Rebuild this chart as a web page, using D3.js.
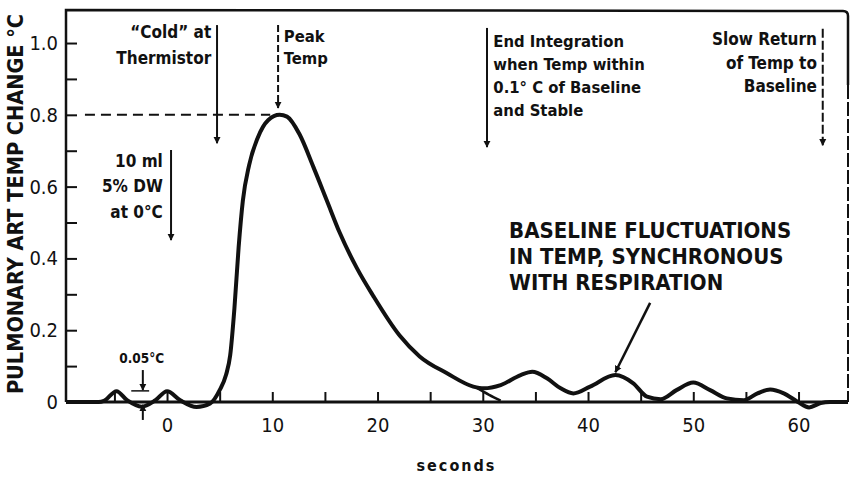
<!DOCTYPE html>
<html lang="en">
  <head>
    <meta charset="utf-8" />
    <title>Thermodilution curve</title>
    <script src="https://cdn.jsdelivr.net/npm/d3@7"></script>
    <style>
      body { margin: 0; background: #fff; }
      text { font-family: "DejaVu Sans Condensed", "DejaVu Sans", sans-serif; fill: #111; }
    </style>
  </head>
  <body>
    <script>
      // curve: seconds, temp change (°C)
      var curveT = [-9.6, -6.5, -6.0, -4.8, -3.8, -2.4, -1.1, 0, 1.25, 2.8, 4.1, 5.0, 5.6, 6.0, 6.4, 6.8, 7.2, 7.8, 8.6, 9.6, 10.7, 11.4, 12.6, 13.9, 15.2, 16.4, 18.0, 19.6, 22.1, 24.0, 26.6, 29.1, 30.1, 31.7, 33.6, 34.7, 36.1, 37.4, 38.6, 40.2, 42.6, 44.3, 45.6, 46.9, 48.4, 50.0, 51.6, 53.2, 54.8, 56.1, 57.3, 58.6, 59.9, 61.0, 62.1, 63.0, 64.7]
      var curveV = [0, 0, 0.003, 0.03, 0.005, -0.013, 0.005, 0.03, 0.005, -0.014, -0.004, 0.033, 0.075, 0.13, 0.26, 0.43, 0.56, 0.66, 0.735, 0.785, 0.8, 0.795, 0.745, 0.655, 0.56, 0.472, 0.375, 0.295, 0.185, 0.127, 0.08, 0.043, 0.038, 0.047, 0.075, 0.084, 0.066, 0.038, 0.024, 0.043, 0.075, 0.052, 0.015, 0.008, 0.033, 0.054, 0.033, 0.01, 0.005, 0.024, 0.035, 0.024, 0.001, -0.015, -0.003, 0, 0]
      // extrapolated decay under the first bump
      var tailT = [29.4, 30.6, 31.7]
      var tailV = [0.04, 0.02, 0.004]

      var xTicks = [-5, 0, 5, 10, 15, 20, 25, 30, 35, 40, 45, 50, 55, 60]
      var xLabels = [0, 10, 20, 30, 40, 50, 60]
      var yTicks = [0, 0.1, 0.2, 0.3, 0.4, 0.5, 0.6, 0.7, 0.8, 0.9, 1.0]
      var yLabels = {"0": "0", "0.2": "0.2", "0.4": "0.4", "0.6": "0.6", "0.8": "0.8", "1": "1.0"}
      var peakValue = 0.8

      var width = 858, height = 480
      var svg = d3.select("body").append("svg")
                  .attr("width", width)
                  .attr("height", height)

      var x = d3.scaleLinear().domain([-9.6, 64.7]).range([66, 848])
      var y = d3.scaleLinear().domain([0, 1.092]).range([402, 10])

      var defs = svg.append("defs")
      defs.append("marker")
          .attr("id", "head")
          .attr("viewBox", "0 0 10 10")
          .attr("refX", 9).attr("refY", 5)
          .attr("markerUnits", "userSpaceOnUse")
          .attr("markerWidth", 7).attr("markerHeight", 9)
          .attr("orient", "auto")
        .append("path")
          .attr("d", "M0,0 L10,5 L0,10 Z")
          .attr("fill", "#111")

      // axes
      var xAxis = svg.append("g")
         .attr("transform", "translate(0," + y(0) + ")")
         .call(d3.axisBottom(x)
                 .tickValues(xTicks)
                 .tickSize(-10)
                 .tickPadding(16)
                 .tickFormat(function(d) { return xLabels.indexOf(d) >= 0 ? d : "" }))
      xAxis.select(".domain").remove()
      xAxis.selectAll("line").attr("stroke", "#111").attr("stroke-width", 2)
      xAxis.selectAll("text").style("font-size", "20px").attr("fill", "#111")

      var yAxis = svg.append("g")
         .attr("transform", "translate(" + x(-9.6) + ",0)")
         .call(d3.axisLeft(y)
                 .tickValues(yTicks)
                 .tickSize(-11)
                 .tickPadding(8)
                 .tickFormat(function(d) { return yLabels[String(+d.toFixed(1))] || "" }))
      yAxis.select(".domain").remove()
      yAxis.selectAll("line").attr("stroke", "#111").attr("stroke-width", 2)
      yAxis.selectAll("text").style("font-size", "20px").attr("fill", "#111")

      // frame
      var x0 = x.range()[0], x1 = x.range()[1], yb = y.range()[0], yt = y.range()[1]
      svg.append("path")
         .attr("d", "M" + x0 + "," + yb + " L" + x0 + "," + yt + " L" + (x1 - 5) + "," + (yt + 1) +
                    " Q" + x1 + "," + (yt + 1) + " " + x1 + "," + (yt + 6) + " L" + x1 + ",85")
         .attr("fill", "none").attr("stroke", "#111").attr("stroke-width", 2.5)
      svg.append("line")
         .attr("x1", x1).attr("x2", x1).attr("y1", 85).attr("y2", yb)
         .attr("stroke", "#111").attr("stroke-width", 2).attr("stroke-dasharray", "14,3")
      svg.append("line")
         .attr("x1", x0).attr("x2", x1).attr("y1", yb).attr("y2", yb)
         .attr("stroke", "#111").attr("stroke-width", 3)

      // peak level
      svg.append("line")
         .attr("x1", x(-7.8)).attr("x2", x(9.8))
         .attr("y1", y(peakValue)).attr("y2", y(peakValue))
         .attr("stroke", "#111").attr("stroke-width", 2).attr("stroke-dasharray", "10,6")

      // curve
      var line = d3.line()
                   .x(function(d) { return x(d[0]) })
                   .y(function(d) { return y(d[1]) })
                   .curve(d3.curveMonotoneX)
      svg.append("path")
         .datum(d3.zip(curveT, curveV))
         .attr("d", line)
         .attr("fill", "none").attr("stroke", "#111").attr("stroke-width", 4)
         .attr("stroke-linejoin", "round")
      svg.append("path")
         .datum(d3.zip(tailT, tailV))
         .attr("d", line)
         .attr("fill", "none").attr("stroke", "#111").attr("stroke-width", 2.5)

      // arrows
      function arrow(t0, v0, t1, v1, dash, w) {
        svg.append("line")
           .attr("x1", x(t0)).attr("y1", y(v0))
           .attr("x2", x(t1)).attr("y2", y(v1))
           .attr("stroke", "#111").attr("stroke-width", w || 2)
           .attr("stroke-dasharray", dash || null)
           .attr("marker-end", "url(#head)")
      }
      arrow(4.75, 1.05, 4.75, 0.721)
      arrow(10.55, 1.05, 10.55, 0.819, "7,3")
      arrow(0.38, 0.702, 0.38, 0.451)
      arrow(30.4, 1.042, 30.4, 0.71)
      arrow(62.3, 1.04, 62.3, 0.715, "9,3")
      arrow(45.9, 0.276, 42.6, 0.083, null, 2.5)
      arrow(-2.3, 0.089, -2.3, 0.033)
      arrow(-2.3, -0.05, -2.3, -0.008)
      svg.append("line")
         .attr("x1", x(-3.4)).attr("x2", x(-1.7))
         .attr("y1", y(0.031)).attr("y2", y(0.031))
         .attr("stroke", "#111").attr("stroke-width", 1.5)

      // annotations
      function note(lines, t, v, step, anchor, size, weight) {
        var g = svg.append("text")
                   .attr("text-anchor", anchor)
                   .style("font-size", size + "px")
                   .style("font-weight", weight || "bold")
        lines.forEach(function(s, i) {
          g.append("tspan").attr("x", x(t)).attr("y", y(v) + i * step).text(s)
        })
      }
      note(["\u201cCold\u201d at", "Thermistor"], 4.2, 1.014, 26, "end", 17)
      note(["Peak", "Temp"], 11.1, 1.003, 22, "start", 16.5)
      note(["10 ml", "5% DW", "at 0\u00b0C"], -0.4, 0.655, 25.5, "end", 17)
      note(["End Integration", "when Temp within", "0.1\u00b0 C of Baseline", "and Stable"], 31.0, 0.99, 23, "start", 16.5)
      note(["Slow Return", "of Temp to", "Baseline"], 61.75, 0.994, 23.5, "end", 17)
      note(["BASELINE FLUCTUATIONS", "IN TEMP, SYNCHRONOUS", "WITH RESPIRATION"], 32.5, 0.457, 26, "start", 22)
      note(["0.05\u00b0C"], -2.4, 0.109, 0, "middle", 13.5)

      // axis titles
      svg.append("text")
         .attr("transform", "translate(23," + ((y(0) + y(1.092)) / 2 - 2) + ") rotate(-90)")
         .attr("text-anchor", "middle")
         .style("font-size", "21.5px").style("font-weight", "bold")
         .text("PULMONARY ART TEMP CHANGE \u00b0C")
      svg.append("text")
         .attr("x", x(27.5)).attr("y", 471)
         .attr("text-anchor", "middle")
         .style("font-size", "16px").style("font-weight", "bold")
         .style("letter-spacing", "2px")
         .text("seconds")
    </script>
  </body>
</html>
